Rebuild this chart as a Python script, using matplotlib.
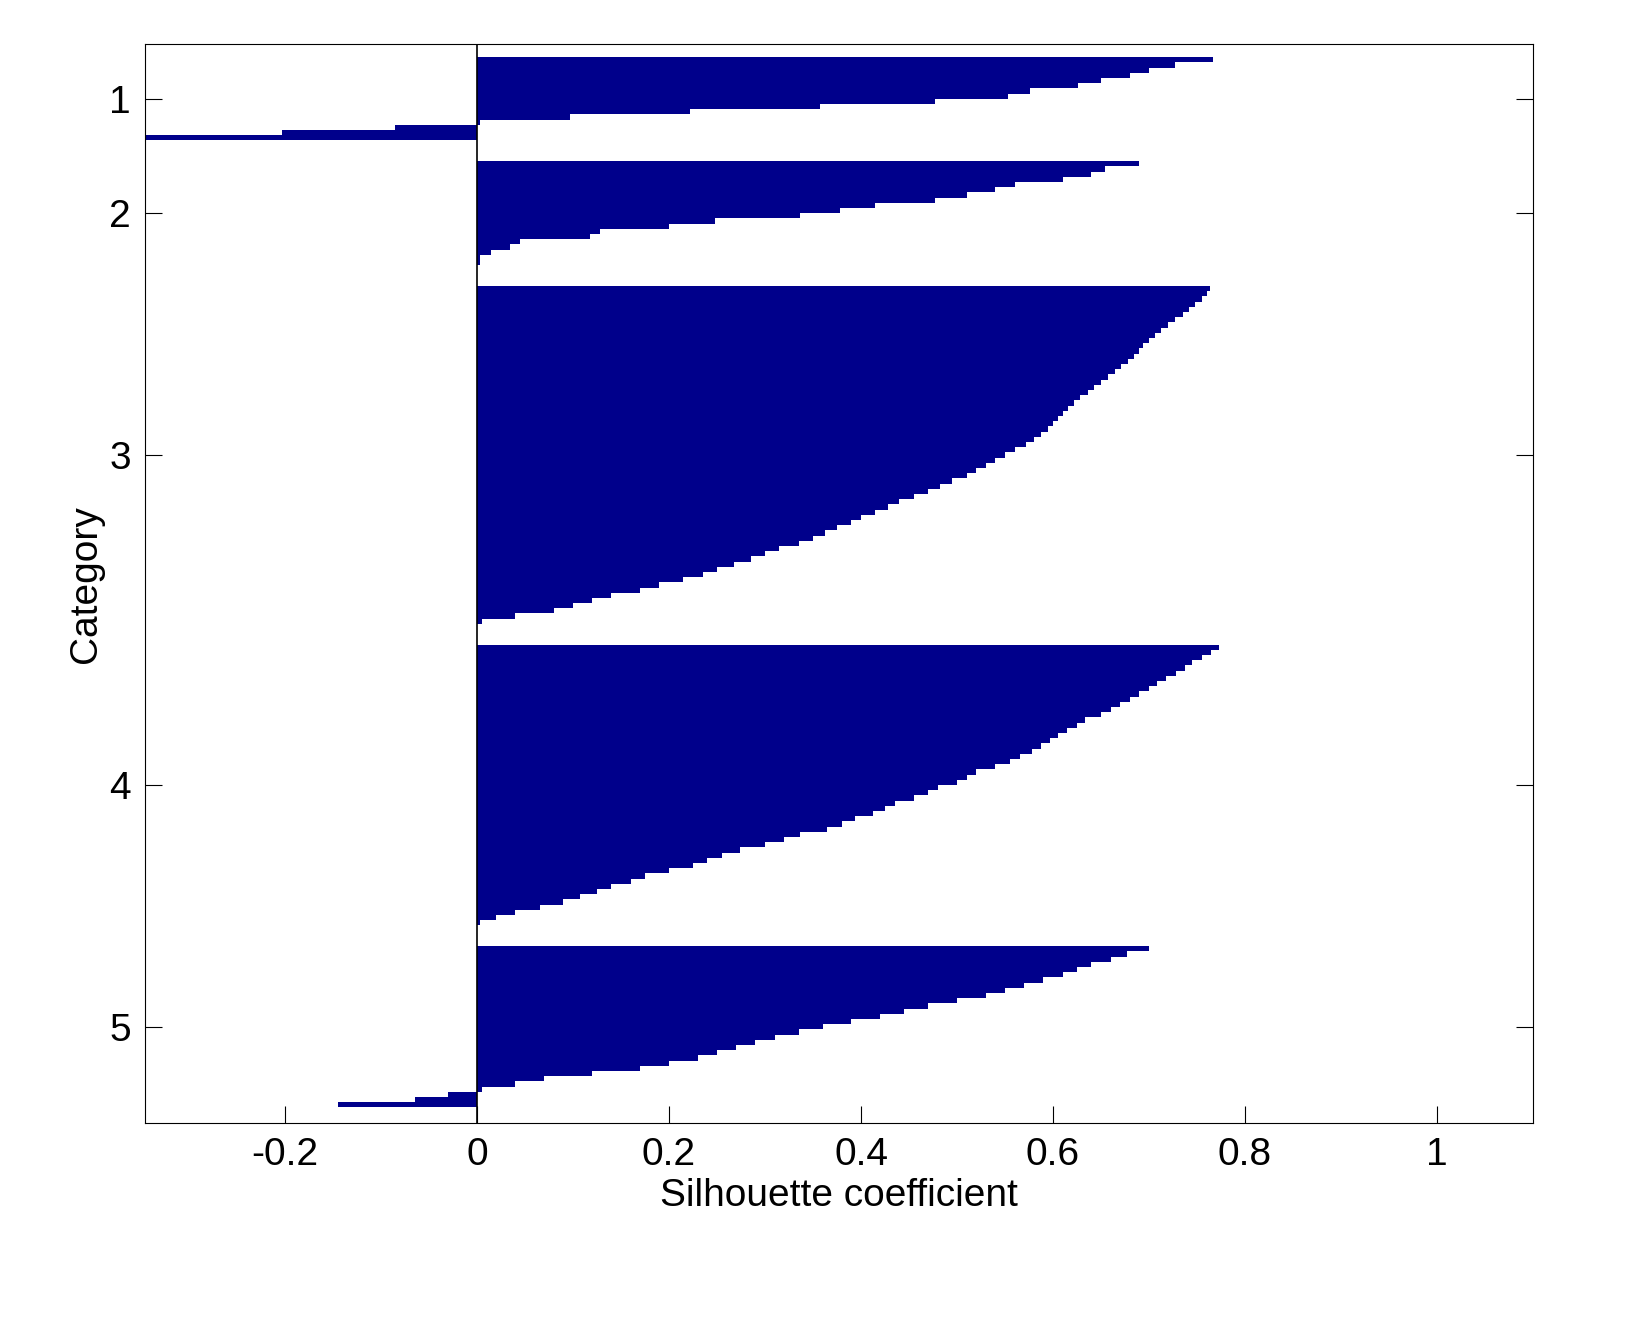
import numpy as np
import matplotlib.pyplot as plt

plt.rcParams['font.family'] = ['Liberation Sans', 'DejaVu Sans']

# silhouette values per cluster, sorted top to bottom as drawn
clusters = ['1', '2', '3', '4', '5']
sil_1 = [0.767, 0.727, 0.70, 0.68, 0.65, 0.626, 0.576, 0.553, 0.477, 0.357,
         0.222, 0.097, 0.003, -0.085, -0.203, -0.345]
sil_2 = [0.69, 0.654, 0.64, 0.61, 0.56, 0.54, 0.51, 0.477, 0.415, 0.378,
         0.336, 0.248, 0.20, 0.128, 0.118, 0.045, 0.034, 0.014, 0.003, 0.003]
sil_3 = [0.764, 0.760, 0.755, 0.748, 0.742, 0.735, 0.727, 0.720, 0.712, 0.706,
         0.700, 0.694, 0.690, 0.684, 0.678, 0.671, 0.665, 0.657, 0.650, 0.643,
         0.636, 0.628, 0.622, 0.616, 0.610, 0.605, 0.600, 0.595, 0.588, 0.580,
         0.572, 0.560, 0.550, 0.540, 0.530, 0.520, 0.510, 0.495, 0.482, 0.470,
         0.455, 0.440, 0.428, 0.415, 0.400, 0.390, 0.375, 0.362, 0.350, 0.335,
         0.315, 0.300, 0.285, 0.268, 0.250, 0.235, 0.215, 0.190, 0.170, 0.140,
         0.120, 0.100, 0.080, 0.040, 0.005]
sil_4 = [0.773, 0.765, 0.755, 0.745, 0.737, 0.728, 0.718, 0.708, 0.700, 0.690,
         0.680, 0.670, 0.660, 0.650, 0.633, 0.625, 0.615, 0.605, 0.597, 0.588,
         0.578, 0.566, 0.555, 0.540, 0.520, 0.510, 0.500, 0.480, 0.470, 0.455,
         0.435, 0.425, 0.412, 0.394, 0.380, 0.365, 0.336, 0.320, 0.300, 0.274,
         0.255, 0.240, 0.225, 0.200, 0.175, 0.160, 0.140, 0.125, 0.107, 0.090,
         0.066, 0.040, 0.020, 0.003]
sil_5 = [0.70, 0.677, 0.66, 0.64, 0.625, 0.61, 0.59, 0.57, 0.55, 0.53,
         0.50, 0.47, 0.445, 0.42, 0.39, 0.36, 0.335, 0.31, 0.29, 0.27,
         0.25, 0.23, 0.20, 0.17, 0.12, 0.07, 0.04, 0.005, -0.03, -0.065, -0.145]
all_sil = [sil_1, sil_2, sil_3, sil_4, sil_5]

gap = 4
ys, vals, centers = [], [], []
pos = 3
for s in all_sil:
    idx = np.arange(pos, pos + len(s))
    ys.extend(idx)
    vals.extend(s)
    centers.append(idx.mean())
    pos += len(s) + gap
ymax = pos - gap + 2.5

fig = plt.figure(figsize=(16.51, 13.39), dpi=100)
ax = fig.add_axes([0.0878, 0.1613, 0.8407, 0.8057])
ax.barh(ys, vals, height=1.0, color='#00008B', edgecolor='none')
ax.axvline(0, color='black', lw=1.2)
ax.set_xlim(-0.346, 1.1)
ax.set_ylim(ymax, 0)
ax.set_yticks(centers)
ax.set_yticklabels(clusters)
ax.set_xticks([-0.2, 0, 0.2, 0.4, 0.6, 0.8, 1])
ax.set_xticklabels(['-0.2', '0', '0.2', '0.4', '0.6', '0.8', '1'])
ax.tick_params(direction='in', length=12, labelsize=28, right=True, top=False, pad=10)
ax.set_xlabel('Silhouette coefficient', fontsize=28)
ax.set_ylabel('Category', fontsize=28)
fig.savefig('out.png', dpi=100)
